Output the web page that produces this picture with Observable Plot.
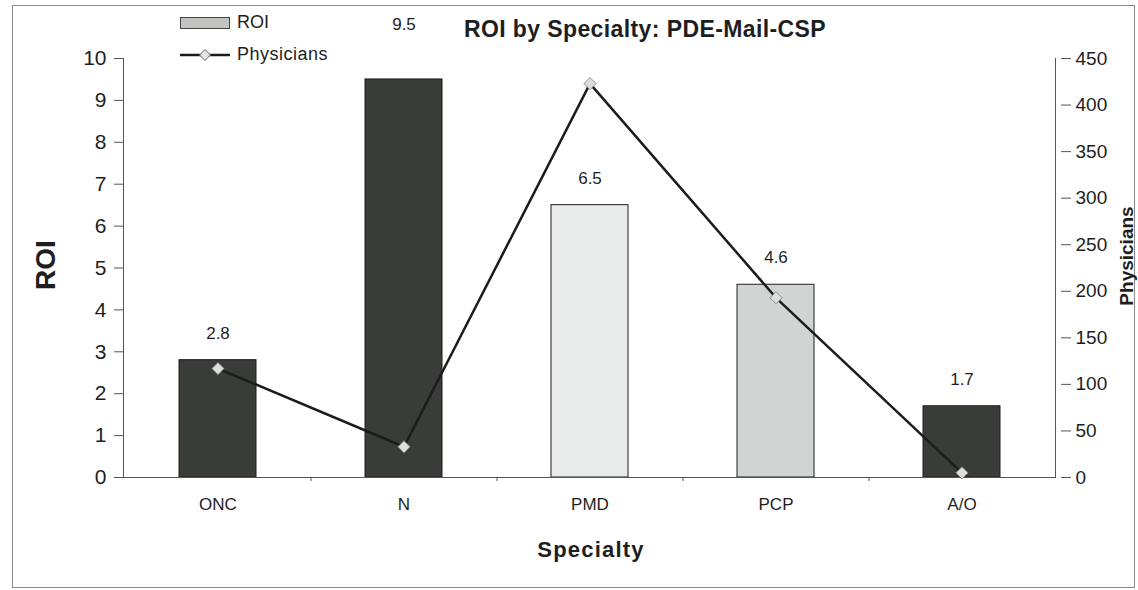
<!DOCTYPE html>
<html><head><meta charset="utf-8">
<script src="https://cdn.jsdelivr.net/npm/d3@7"></script>
<script src="https://cdn.jsdelivr.net/npm/@observablehq/plot@0.6"></script>
<style>
body{margin:0;background:#fff;font-family:"Liberation Sans",Arial,sans-serif;color:#1e1e1e;}
#wrap{position:relative;width:1138px;height:590px;overflow:hidden;}
#border{position:absolute;left:12px;top:5px;width:1123px;height:583px;border:1px solid #8a8a8a;box-sizing:border-box;pointer-events:none;}
#chart{position:absolute;left:0;top:0;}
.ov{position:absolute;white-space:nowrap;}
.center{transform:translate(-50%,-50%);}
.rot{transform:translate(-50%,-50%) rotate(-90deg);}
</style></head>
<body>
<div id="wrap">
  <div id="chart"></div>
  <div id="border"></div>
  <div class="ov center" id="title" style="left:645px;top:29px;font-weight:bold;font-size:23px;letter-spacing:0.4px;">ROI by Specialty: PDE-Mail-CSP</div>
  <div class="ov" style="left:180px;top:17px;width:50px;height:12px;background:#c2c4c2;border:1px solid #444;box-sizing:border-box;"></div>
  <div class="ov" style="left:237px;top:12px;font-size:18px;">ROI</div>
  <svg class="ov" style="left:180px;top:47px;" width="52" height="16">
    <line x1="0" y1="8" x2="50" y2="8" stroke="#1c1c1c" stroke-width="2.5"></line>
    <path d="M25,2.5L30.5,8L25,13.5L19.5,8Z" fill="#e2e4e2" stroke="#666" stroke-width="1"></path>
  </svg>
  <div class="ov" style="left:237px;top:44px;font-size:18px;letter-spacing:0.5px;">Physicians</div>
  <div class="ov rot" style="left:46px;top:265px;font-weight:bold;font-size:28px;">ROI</div>
  <div class="ov rot" style="left:1127px;top:256px;font-weight:bold;font-size:19px;">Physicians</div>
  <div class="ov center" style="left:591px;top:550px;font-weight:bold;font-size:22px;letter-spacing:1.2px;">Specialty</div>
</div>
<script>
const specialties = ["ONC", "N", "PMD", "PCP", "A/O"];
const roi = [2.8, 9.5, 6.5, 4.6, 1.7];
const physicians = [117, 33, 423, 193, 5];
const roiTicks = [0, 1, 2, 3, 4, 5, 6, 7, 8, 9, 10];
const physTicks = [0, 50, 100, 150, 200, 250, 300, 350, 400, 450];

const barFill = {ONC: "#393c39", N: "#393c39", PMD: "#e9ebea", PCP: "#d2d4d3", "A/O": "#393c39"};
const physMax = 450, roiMax = 10;
const k = physMax / roiMax;

const data = specialties.map((s, i) => ({s, roi: roi[i], phys: physicians[i]}));
const normal = data.filter(d => d.s !== "N");
const tall = data.filter(d => d.s === "N");

const chart = Plot.plot({
  width: 1138, height: 590,
  marginLeft: 123, marginRight: 83, marginTop: 58, marginBottom: 113,
  style: {background: "transparent", fontFamily: "Liberation Sans, Arial, sans-serif", color: "#1e1e1e"},
  x: {domain: specialties, paddingInner: 0.587, paddingOuter: 0.2935, align: 0.5, axis: null},
  y: {domain: [0, roiMax], axis: null},
  color: {type: "identity"},
  marks: [
    Plot.barY(data, {x: "s", y: "roi", fill: d => barFill[d.s], stroke: "#1f1f1f", strokeWidth: 1}),
    Plot.ruleY([0], {stroke: "#555"}),
    Plot.frame({anchor: "left", stroke: "#555"}),
    Plot.frame({anchor: "right", stroke: "#555"}),
    Plot.lineY(data, {x: "s", y: d => d.phys / k, stroke: "#1c1c1c", strokeWidth: 2.5}),
    Plot.dot(data, {x: "s", y: d => d.phys / k, symbol: "diamond2", r: 5.5, fill: "#dcdfdc", stroke: "#777", strokeWidth: 0.8}),
    Plot.text(normal, {x: "s", y: "roi", text: d => d.roi.toFixed(1), dy: -27, fontSize: 17}),
    Plot.text(tall, {x: "s", y: "roi", text: d => d.roi.toFixed(1), dy: -55, fontSize: 17}),
    Plot.axisY({anchor: "left", ticks: roiTicks, tickSize: 9, tickPadding: 8, fontSize: 21, label: null, tickFormat: d3.format("d"), stroke: "#555"}),
    Plot.axisY({anchor: "right", ticks: physTicks.map(v => v / k), tickSize: 10, dx: 5, tickPadding: 5, fontSize: 19, label: null, tickFormat: v => String(Math.round(v * k)), stroke: "#555"}),
    Plot.axisX({ticks: specialties, tickSize: 0, tickPadding: 20, fontSize: 17, label: null}),
    Plot.axisX({ticks: specialties.slice(0, 4), tickSize: 4, dx: 93, tickFormat: () => "", label: null, stroke: "#555"})
  ]
});
document.getElementById("chart").appendChild(chart);
</script>
</body></html>
